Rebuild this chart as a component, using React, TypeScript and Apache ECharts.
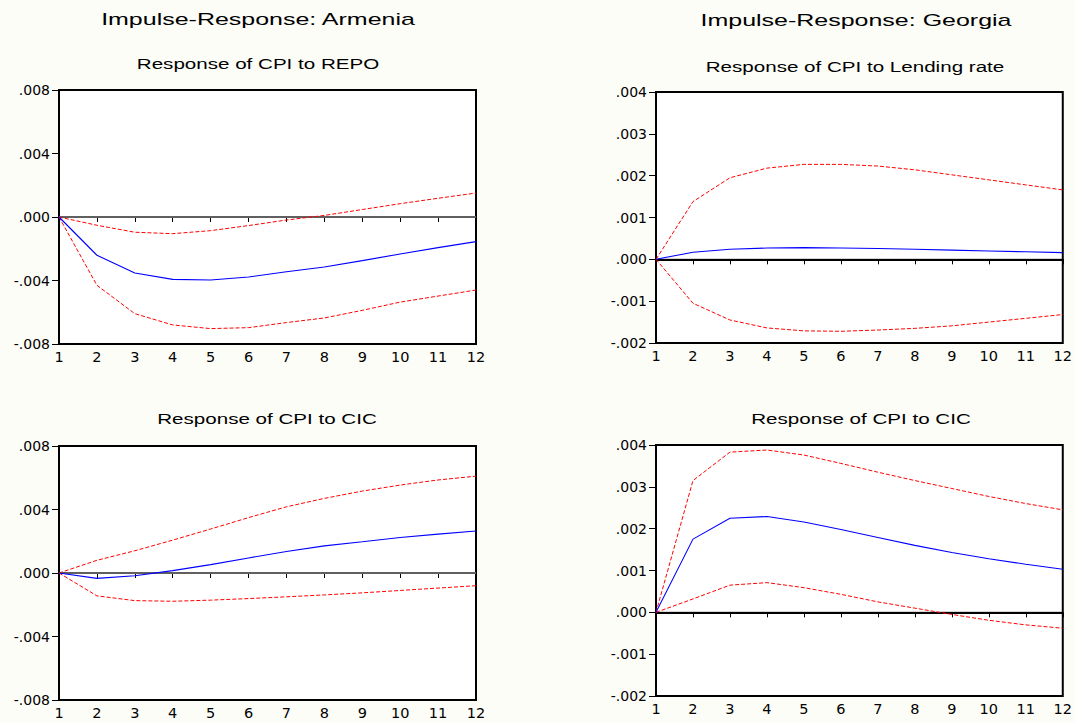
import React, { useEffect, useRef } from "react";
import * as echarts from "echarts";

// ---- data ----
const horizons = [1, 2, 3, 4, 5, 6, 7, 8, 9, 10, 11, 12];

const mainTitles = ["Impulse-Response: Armenia", "Impulse-Response: Georgia"];
const panelTitles = [
  "Response of CPI to REPO",
  "Response of CPI to Lending rate",
  "Response of CPI to CIC",
  "Response of CPI to CIC",
];

// Armenia: CPI to REPO
const armRepoIrf = [0, -0.00241, -0.00353, -0.00393, -0.00397, -0.00378, -0.00345, -0.00315, -0.00275, -0.00233, -0.00193, -0.00155];
const armRepoUpper = [0, -0.00052, -0.00096, -0.00105, -0.00086, -0.00054, -0.00019, 0.0001, 0.00047, 0.00084, 0.00118, 0.00151];
const armRepoLower = [0, -0.0043, -0.00609, -0.0068, -0.00703, -0.00697, -0.00665, -0.00636, -0.00588, -0.00536, -0.00498, -0.0046];

// Georgia: CPI to Lending rate
const geoLendIrf = [0, 0.00017, 0.00024, 0.00027, 0.00028, 0.00027, 0.00026, 0.00024, 0.00022, 0.0002, 0.00018, 0.00016];
const geoLendUpper = [0, 0.00138, 0.00195, 0.00218, 0.00227, 0.00227, 0.00223, 0.00214, 0.00202, 0.0019, 0.00178, 0.00166];
const geoLendLower = [0, -0.00105, -0.00145, -0.00164, -0.00171, -0.00172, -0.00169, -0.00165, -0.00159, -0.0015, -0.00141, -0.00132];

// Armenia: CPI to CIC
const armCicIrf = [0, -0.00034, -0.00017, 0.00015, 0.00053, 0.00095, 0.00135, 0.00171, 0.00197, 0.00224, 0.00245, 0.00265];
const armCicUpper = [0, 0.0008, 0.0014, 0.00207, 0.00277, 0.00349, 0.00417, 0.0047, 0.00516, 0.00554, 0.00586, 0.0061];
const armCicLower = [0, -0.00144, -0.00174, -0.00178, -0.00171, -0.00161, -0.0015, -0.00138, -0.00125, -0.0011, -0.00095, -0.0008];

// Georgia: CPI to CIC
const geoCicIrf = [0, 0.00175, 0.00225, 0.00229, 0.00216, 0.00198, 0.00179, 0.0016, 0.00143, 0.00128, 0.00115, 0.00103];
const geoCicUpper = [0, 0.00315, 0.00383, 0.00388, 0.00376, 0.00356, 0.00335, 0.00315, 0.00296, 0.00277, 0.0026, 0.00245];
const geoCicLower = [0, 0.00032, 0.00065, 0.00071, 0.00059, 0.00043, 0.00025, 0.0001, -0.00005, -0.00019, -0.0003, -0.00038];

// y axis scales per panel
const armYMin = -0.008;
const armYMax = 0.008;
const armYStep = 0.004;
const geoYMin = -0.002;
const geoYMax = 0.004;
const geoYStep = 0.001;

const FONT = "'Liberation Sans', Arial, sans-serif";
const TICK_FONT = "'DejaVu Sans', 'Liberation Sans', sans-serif";
const STRETCH = 1.47;

function fmtY(v: number): string {
  const s = (Math.round(v * 1000) / 1000).toFixed(3);
  return s.replace(/^(-?)0\./, "$1.");
}

export default function App() {
  const ref = useRef<HTMLDivElement>(null);

  useEffect(() => {
    if (!ref.current) return;
    const chart = echarts.init(ref.current, null, { renderer: "svg" });

    const grids = [
      { left: 59, top: 90, width: 417, height: 254 },
      { left: 656, top: 92, width: 410, height: 251 },
      { left: 59, top: 446, width: 417, height: 254 },
      { left: 656, top: 445, width: 410, height: 251 },
    ];

    const panels = [
      { irf: armRepoIrf, up: armRepoUpper, lo: armRepoLower, min: armYMin, max: armYMax, step: armYStep, zeroColor: "#808080", zeroWidth: 1.6 },
      { irf: geoLendIrf, up: geoLendUpper, lo: geoLendLower, min: geoYMin, max: geoYMax, step: geoYStep, zeroColor: "#000000", zeroWidth: 1 },
      { irf: armCicIrf, up: armCicUpper, lo: armCicLower, min: armYMin, max: armYMax, step: armYStep, zeroColor: "#808080", zeroWidth: 1.6 },
      { irf: geoCicIrf, up: geoCicUpper, lo: geoCicLower, min: geoYMin, max: geoYMax, step: geoYStep, zeroColor: "#000000", zeroWidth: 1 },
    ];

    const pts = (arr: number[]) => horizons.map((h, i) => [h, arr[i]]);

    const series: any[] = [];
    panels.forEach((p, i) => {
      series.push({
        type: "line",
        xAxisIndex: i,
        yAxisIndex: i,
        data: [[horizons[0], 0], [horizons[horizons.length - 1], 0]],
        symbol: "none",
        lineStyle: { color: p.zeroColor, width: p.zeroWidth, type: "solid" },
        silent: true,
        z: 1,
      });
      series.push({
        type: "line",
        xAxisIndex: i,
        yAxisIndex: i,
        data: pts(p.up),
        symbol: "none",
        lineStyle: { color: "#ff0000", width: 1, type: [4, 2] },
        z: 2,
      });
      series.push({
        type: "line",
        xAxisIndex: i,
        yAxisIndex: i,
        data: pts(p.lo),
        symbol: "none",
        lineStyle: { color: "#ff0000", width: 1, type: [4, 2] },
        z: 2,
      });
      series.push({
        type: "line",
        xAxisIndex: i,
        yAxisIndex: i,
        data: pts(p.irf),
        symbol: "none",
        lineStyle: { color: "#0000ff", width: 1.1, type: "solid" },
        z: 3,
      });
    });

    const xAxis = grids.map((_, i) => ({
      type: "value",
      gridIndex: i,
      min: 1,
      max: 12,
      interval: 1,
      axisLine: { show: true, lineStyle: { color: "#000", width: 2 } },
      axisTick: { show: true, inside: false, length: 5, lineStyle: { color: "#000", width: 1 } },
      axisLabel: { fontSize: 14.5, color: "#000", fontFamily: TICK_FONT, margin: 5 },
      splitLine: { show: false },
    }));

    const yAxis = panels.map((p, i) => ({
      type: "value",
      gridIndex: i,
      min: p.min,
      max: p.max,
      interval: p.step,
      axisLine: { show: true, lineStyle: { color: "#000", width: 2 } },
      axisTick: { show: true, inside: false, length: 7, lineStyle: { color: "#000", width: 1 } },
      axisLabel: { fontSize: 14, color: "#000", fontFamily: TICK_FONT, margin: 9, formatter: fmtY },
      splitLine: { show: false },
    }));

    const titleSpecs = [
      { text: mainTitles[0], x: 258, y: 19, size: 17 },
      { text: mainTitles[1], x: 856, y: 20, size: 17 },
      { text: panelTitles[0], x: 258, y: 64, size: 14 },
      { text: panelTitles[1], x: 855, y: 67, size: 14 },
      { text: panelTitles[2], x: 267, y: 419, size: 14 },
      { text: panelTitles[3], x: 861, y: 419, size: 14 },
    ];

    const graphic = titleSpecs.map((t) => ({
      type: "text",
      x: t.x,
      y: t.y,
      scaleX: STRETCH,
      silent: true,
      style: {
        text: t.text,
        fontSize: t.size,
        fontFamily: FONT,
        fill: "#000",
        textAlign: "center",
        textVerticalAlign: "middle",
      },
    }));

    chart.setOption({
      animation: false,
      backgroundColor: "#fdfdf8",
      grid: grids.map((g) => ({
        ...g,
        show: true,
        backgroundColor: "#ffffff",
        borderColor: "#000",
        borderWidth: 2,
        containLabel: false,
      })),
      xAxis,
      yAxis,
      series,
      graphic,
    });

    return () => {
      chart.dispose();
    };
  }, []);

  return (
    <div
      ref={ref}
      style={{ position: "fixed", left: 0, top: 0, width: 1075, height: 723 }}
    />
  );
}
